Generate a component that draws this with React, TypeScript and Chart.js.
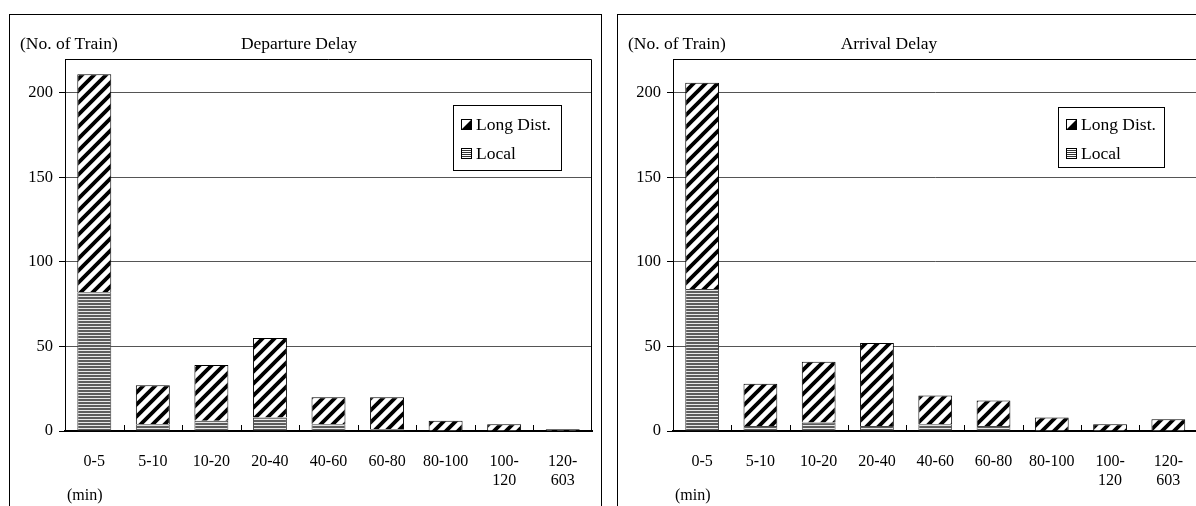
import React, { useEffect, useRef } from "react";
import { Chart, registerables } from "chart.js";
Chart.register(...registerables);

const categories: string[][] = [["0-5"], ["5-10"], ["10-20"], ["20-40"], ["40-60"], ["60-80"], ["80-100"], ["100-", "120"], ["120-", "603"]];
const departureLocal = [82, 4, 6, 8, 4, 1, 0, 0, 0];
const departureLong = [129, 23, 33, 47, 16, 19, 6, 4, 1];
const arrivalLocal = [84, 3, 5, 3, 4, 3, 0, 0, 0];
const arrivalLong = [122, 25, 36, 49, 17, 15, 8, 4, 7];
const yTicks = [0, 50, 100, 150, 200];
const yMax = 220;
const seriesNames = ["Local", "Long Dist."];

const FONT_FAMILY = '"Liberation Serif", "Times New Roman", serif';

function stripePattern(ctx: CanvasRenderingContext2D) {
  const s = 12;
  const c = document.createElement("canvas");
  c.width = s;
  c.height = s;
  const g = c.getContext("2d")!;
  g.fillStyle = "#fff";
  g.fillRect(0, 0, s, s);
  g.strokeStyle = "#000";
  g.lineWidth = 3.8;
  g.beginPath();
  g.moveTo(-s / 2, s / 2);
  g.lineTo(s / 2, -s / 2);
  g.moveTo(-1, s + 1);
  g.lineTo(s + 1, -1);
  g.moveTo(s / 2, s * 1.5);
  g.lineTo(s * 1.5, s / 2);
  g.stroke();
  return ctx.createPattern(c, "repeat")!;
}

function linePattern(ctx: CanvasRenderingContext2D) {
  const c = document.createElement("canvas");
  c.width = 4;
  c.height = 3;
  const g = c.getContext("2d")!;
  g.fillStyle = "#5c5c5c";
  g.fillRect(0, 0, 4, 2);
  g.fillStyle = "#e8e8e8";
  g.fillRect(0, 2, 4, 1);
  return ctx.createPattern(c, "repeat")!;
}

const decorPlugin = {
  id: "decor",
  afterDatasetsDraw(chart: any) {
    const { ctx, chartArea: a, scales } = chart;
    const xs = scales.x;
    ctx.save();
    ctx.strokeStyle = "#000";
    ctx.lineWidth = 1;
    ctx.beginPath();
    ctx.moveTo(a.left, a.top + 0.5);
    ctx.lineTo(a.right - 0.5, a.top + 0.5);
    ctx.lineTo(a.right - 0.5, a.bottom);
    ctx.stroke();
    const n = chart.data.labels.length;
    for (let i = 1; i < n; i++) {
      const px = Math.round((xs.getPixelForValue(i - 1) + xs.getPixelForValue(i)) / 2) + 0.5;
      ctx.beginPath();
      ctx.moveTo(px, a.bottom);
      ctx.lineTo(px, a.bottom - 6);
      ctx.stroke();
    }
    ctx.restore();
  },
  afterDraw(chart: any, _args: any, opts: any) {
    const { ctx } = chart;
    const { x, y, w, h, first, gap } = opts;
    ctx.save();
    ctx.fillStyle = "#fff";
    ctx.fillRect(x, y, w, h);
    ctx.strokeStyle = "#000";
    ctx.lineWidth = 1;
    ctx.strokeRect(x + 0.5, y + 0.5, w, h);
    const ds = chart.data.datasets.slice().reverse();
    ds.forEach((d: any, i: number) => {
      const cy = y + first + i * gap;
      const sx = x + 8.5;
      const sy = Math.round(cy - 5) + 0.5;
      const sz = 10;
      ctx.fillStyle = "#fff";
      ctx.fillRect(sx, sy, sz, sz);
      ctx.fillStyle = "#000";
      if (d.label === "Long Dist.") {
        ctx.beginPath();
        ctx.moveTo(sx + sz, sy);
        ctx.lineTo(sx + sz, sy + sz);
        ctx.lineTo(sx, sy + sz);
        ctx.closePath();
        ctx.fill();
      } else {
        ctx.fillStyle = "#333";
        for (let k = 2; k < sz; k += 2) ctx.fillRect(sx, sy + k - 0.5, sz, 1);
      }
      ctx.strokeStyle = "#000";
      ctx.strokeRect(sx, sy, sz, sz);
      ctx.fillStyle = "#000";
      ctx.font = `17.5px ${FONT_FAMILY}`;
      ctx.textBaseline = "middle";
      ctx.textAlign = "left";
      ctx.fillText(d.label, x + 23, cy + 1);
    });
    ctx.restore();
  },
};

type PanelProps = {
  title: string;
  local: number[];
  long: number[];
  left: number;
  canvasW: number;
  padRight: number;
  titleX: number;
  legend: { x: number; y: number; w: number; h: number; first: number; gap: number };
};

function Panel({ title, local, long, left, canvasW, padRight, titleX, legend }: PanelProps) {
  const ref = useRef<HTMLCanvasElement>(null);
  useEffect(() => {
    const canvas = ref.current!;
    const ctx = canvas.getContext("2d")!;
    const xFont = { family: FONT_FAMILY, size: 16, lineHeight: 1.2 };
    const yFont = { family: FONT_FAMILY, size: 16.5 };
    const chart = new Chart(ctx, {
      type: "bar",
      data: {
        labels: categories,
        datasets: [
          {
            label: seriesNames[0],
            data: local,
            backgroundColor: linePattern(ctx),
            borderColor: "#444",
            borderWidth: 1,
            barPercentage: 0.58,
            categoryPercentage: 1,
          },
          {
            label: seriesNames[1],
            data: long,
            backgroundColor: stripePattern(ctx),
            borderColor: "#000",
            borderWidth: 1,
            barPercentage: 0.58,
            categoryPercentage: 1,
          },
        ],
      },
      options: {
        animation: false,
        responsive: false,
        maintainAspectRatio: false,
        devicePixelRatio: 1,
        layout: { padding: { top: 44, right: padRight, left: 0, bottom: 0 } },
        plugins: {
          legend: { display: false },
          tooltip: { enabled: false },
          decor: legend,
        } as any,
        scales: {
          x: {
            stacked: true,
            grid: { drawOnChartArea: false, drawTicks: false },
            border: { display: true, color: "#000", width: 2 },
            ticks: { color: "#000", font: xFont, padding: 21, maxRotation: 0, minRotation: 0, autoSkip: false },
            afterFit: (s: any) => {
              s.height = 75;
            },
          },
          y: {
            stacked: true,
            min: 0,
            max: yMax,
            ticks: { stepSize: 50, color: "#000", font: yFont, padding: 6 },
            grid: { color: "#555", tickColor: "#000", tickLength: 6 },
            border: { color: "#000", width: 1 },
            afterBuildTicks: (s: any) => {
              s.ticks = yTicks.map((v) => ({ value: v }));
            },
            afterFit: (s: any) => {
              s.width = 55;
            },
          },
        },
      },
      plugins: [decorPlugin],
    } as any);
    return () => chart.destroy();
  }, []);

  const textStyle: React.CSSProperties = {
    position: "absolute",
    fontFamily: FONT_FAMILY,
    fontSize: 17.5,
    lineHeight: "20px",
    whiteSpace: "nowrap",
    color: "#000",
  };

  return (
    <div
      style={{
        position: "absolute",
        left,
        top: 14,
        width: 593,
        height: 600,
        border: "1px solid #000",
        boxSizing: "border-box",
        background: "#fff",
      }}
    >
      <canvas ref={ref} width={canvasW} height={491} style={{ position: "absolute", left: 0, top: 0, width: canvasW, height: 491 }} />
      <div style={{ ...textStyle, left: 10, top: 18 }}>(No. of Train)</div>
      <div style={{ ...textStyle, left: titleX, top: 18, transform: "translateX(-50%)" }}>{title}</div>
      <div style={{ ...textStyle, fontSize: 16, left: 57, top: 470 }}>(min)</div>
    </div>
  );
}

export default function App() {
  return (
    <div style={{ position: "fixed", left: 0, top: 0, width: 1196, height: 506, overflow: "hidden", background: "#fff" }}>
      <Panel
        title="Departure Delay"
        local={departureLocal}
        long={departureLong}
        left={9}
        canvasW={590}
        padRight={8}
        titleX={289}
        legend={{ x: 443, y: 90, w: 108, h: 65, first: 19, gap: 29 }}
      />
      <div style={{ position: "absolute", left: 617, top: 0, width: 700, height: 506 }}>
        <div style={{ position: "absolute", left: -617, top: 0 }}>
          <Panel
            title="Arrival Delay"
            local={arrivalLocal}
            long={arrivalLong}
            left={617}
            canvasW={586}
            padRight={0}
            titleX={271}
            legend={{ x: 440, y: 92, w: 106, h: 60, first: 17, gap: 29 }}
          />
        </div>
      </div>
    </div>
  );
}
